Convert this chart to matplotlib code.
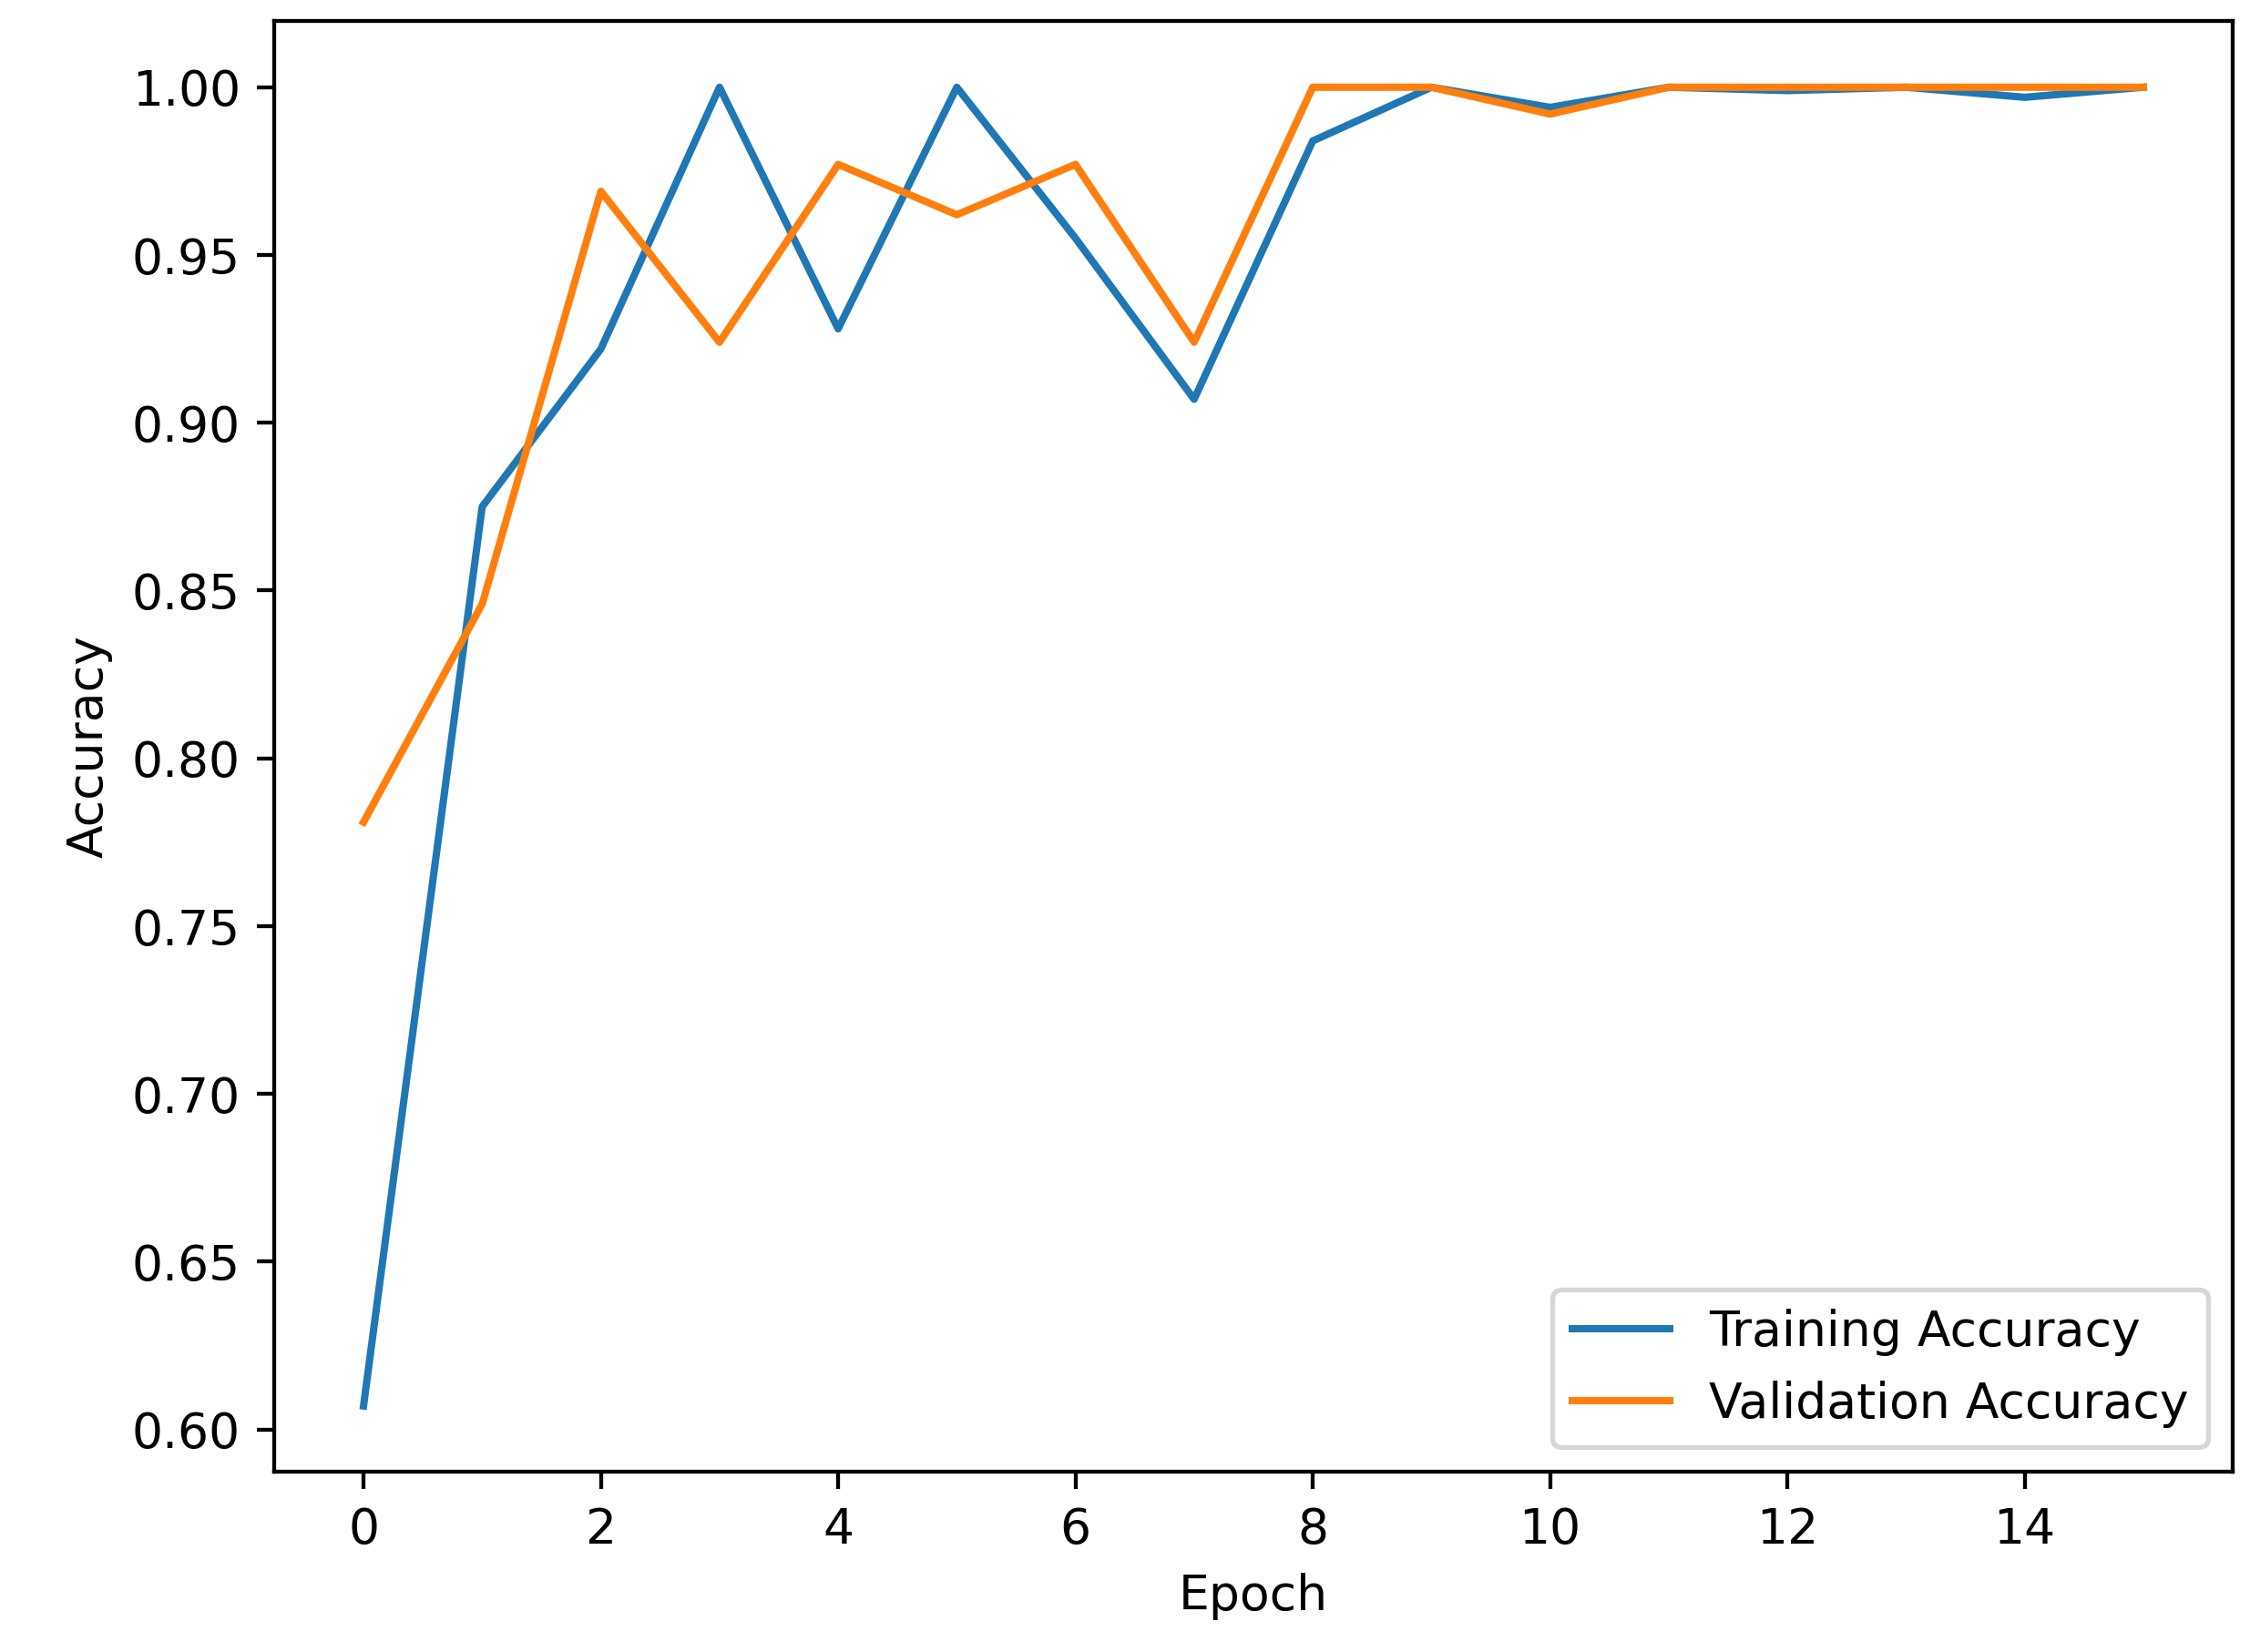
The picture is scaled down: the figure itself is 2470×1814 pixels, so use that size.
import matplotlib
matplotlib.use("Agg")
import matplotlib.pyplot as plt

epochs = list(range(16))
train_acc = [0.607, 0.875, 0.922, 1.0, 0.928, 1.0, 0.955, 0.907,
             0.984, 1.0, 0.994, 1.0, 0.999, 1.0, 0.997, 1.0]
val_acc = [0.781, 0.846, 0.969, 0.924, 0.977, 0.962, 0.977, 0.924,
           1.0, 1.0, 0.992, 1.0, 1.0, 1.0, 1.0, 1.0]

fig, ax = plt.subplots(figsize=(6.4, 4.70), dpi=386)
fig.subplots_adjust(left=0.122, right=0.992, top=0.987, bottom=0.109)

ax.plot(epochs, train_acc, label="Training Accuracy")
ax.plot(epochs, val_acc, label="Validation Accuracy")
ax.set_xlabel("Epoch")
ax.set_ylabel("Accuracy")
ax.set_xticks(range(0, 16, 2))
ax.legend(loc="lower right")

fig.savefig("out.png", dpi=386)
